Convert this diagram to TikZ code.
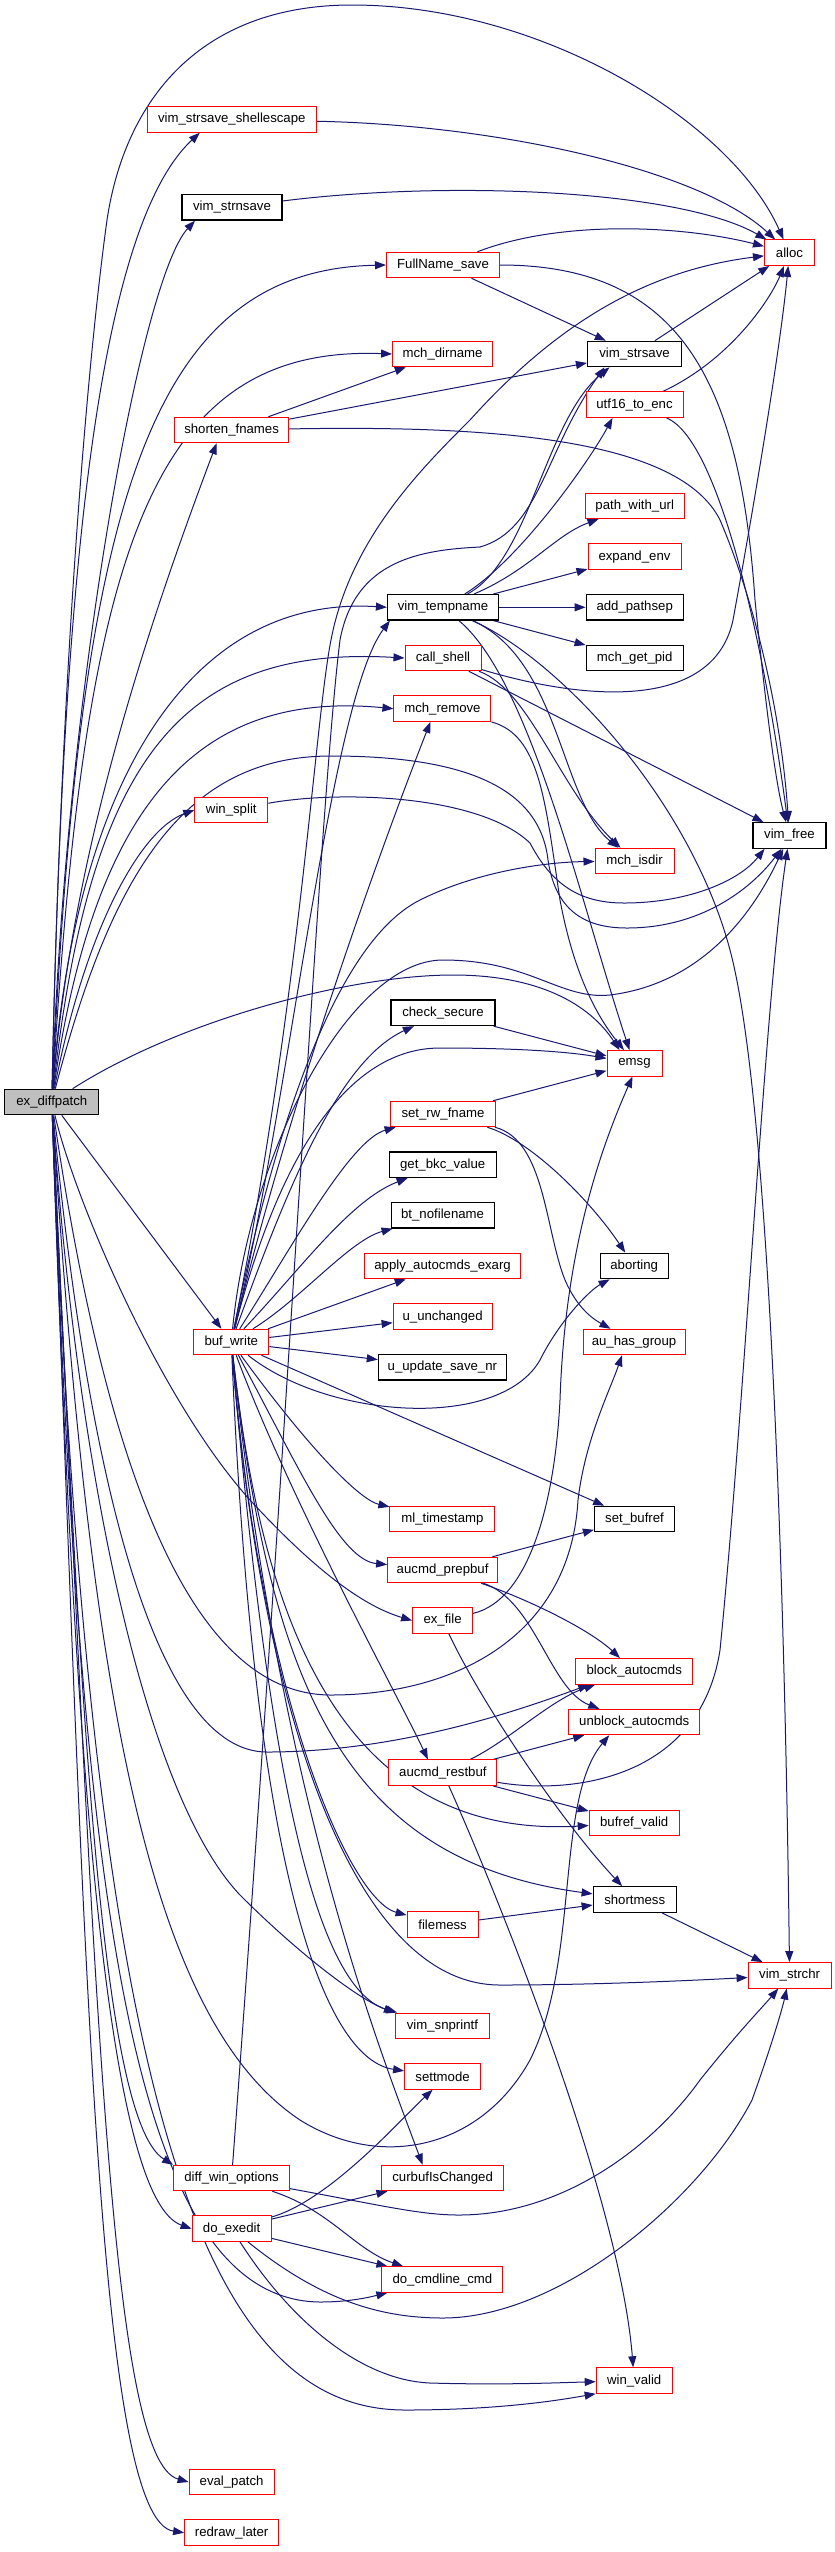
\documentclass[tikz,border=0pt]{standalone}
\usepackage{fontspec}
\setmainfont{Liberation Sans}
\usetikzlibrary{arrows.meta}
\definecolor{edgec}{HTML}{191970}
\definecolor{nodered}{HTML}{FF0000}
\definecolor{nodegray}{HTML}{BFBFBF}
\pgfdeclarelayer{bg}
\pgfsetlayers{bg,main}
\tikzset{
 fn/.style={rectangle, draw=nodered, fill=white, line width=1pt, minimum height=25.5pt, inner xsep=2pt, inner ysep=0pt, font=\fontsize{13.2}{15}\selectfont},
 fnb/.style={fn, draw=black, line width=1.2pt},
 fng/.style={fn, draw=black, line width=1.2pt, fill=nodegray},
 ed/.style={draw=edgec, line width=1pt, -{Triangle[length=11pt,width=8pt]}},
}
\begin{document}
\begin{tikzpicture}[x=1pt,y=-1pt]
\useasboundingbox (0,0) rectangle (835,2552);
% nodes
\node[fng, minimum width=94pt] (E) at (51.8,1102) {ex\_diffpatch};
\node[fn, minimum width=169pt] (vss) at (231.8,119.5) {vim\_strsave\_shellescape};
\node[fnb, minimum width=100pt] (vsn) at (232,207.3) {vim\_strnsave};
\node[fn, minimum width=113pt] (fns) at (443,265) {FullName\_save};
\node[fn, minimum width=100pt] (mdir) at (442.6,354) {mch\_dirname};
\node[fn, minimum width=114pt] (shf) at (231.6,430) {shorten\_fnames};
\node[fnb, minimum width=111pt] (vtn) at (443,607.3) {vim\_tempname};
\node[fn, minimum width=76pt] (csh) at (443,658) {call\_shell};
\node[fn, minimum width=97pt] (mrm) at (442.4,708.7) {mch\_remove};
\node[fn, minimum width=73pt] (wsp) at (231.3,810) {win\_split};
\node[fnb, minimum width=104pt] (chs) at (443,1012.8) {check\_secure};
\node[fn, minimum width=105pt] (srw) at (443,1114) {set\_rw\_fname};
\node[fnb, minimum width=107pt] (gbk) at (442.7,1164.7) {get\_bkc\_value};
\node[fnb, minimum width=103pt] (btn) at (442.6,1215.3) {bt\_nofilename};
\node[fn, minimum width=156pt] (aae) at (442.6,1266) {apply\_autocmds\_exarg};
\node[fn, minimum width=99pt] (uun) at (442.6,1316.7) {u\_unchanged};
\node[fn, minimum width=75pt] (bw) at (231.3,1342) {buf\_write};
\node[fnb, minimum width=128pt] (uus) at (442.4,1367.3) {u\_update\_save\_nr};
\node[fn, minimum width=105pt] (mlt) at (442.4,1519) {ml\_timestamp};
\node[fn, minimum width=110pt] (apb) at (442.6,1570) {aucmd\_prepbuf};
\node[fn, minimum width=60pt] (exf) at (442.6,1620.5) {ex\_file};
\node[fn, minimum width=108pt] (arb) at (442.9,1772.7) {aucmd\_restbuf};
\node[fn, minimum width=71pt] (flm) at (442.6,1924.7) {filemess};
\node[fn, minimum width=94pt] (vsp) at (442.4,2025.8) {vim\_snprintf};
\node[fn, minimum width=76pt] (stm) at (442.6,2076.5) {settmode};
\node[fn, minimum width=116pt] (dwo) at (231.6,2178) {diff\_win\_options};
\node[fn, minimum width=122pt] (cic) at (442.6,2178) {curbufIsChanged};
\node[fn, minimum width=79pt] (dex) at (231.6,2228.7) {do\_exedit};
\node[fn, minimum width=121pt] (dcc) at (442.4,2279.5) {do\_cmdline\_cmd};
\node[fn, minimum width=85pt] (evp) at (231.6,2482) {eval\_patch};
\node[fn, minimum width=94pt] (rdl) at (231.6,2532.7) {redraw\_later};
\node[fnb, minimum width=94pt] (vs) at (634.5,354) {vim\_strsave};
\node[fn, minimum width=97pt] (u16) at (634.5,404.7) {utf16\_to\_enc};
\node[fn, minimum width=99pt] (pwu) at (634.7,505.8) {path\_with\_url};
\node[fn, minimum width=93pt] (xen) at (634.5,556.7) {expand\_env};
\node[fnb, minimum width=97pt] (aps) at (634.7,607.3) {add\_pathsep};
\node[fnb, minimum width=97pt] (mgp) at (634.7,658) {mch\_get\_pid};
\node[fn, minimum width=79pt] (mid) at (634.5,861) {mch\_isdir};
\node[fn, minimum width=55pt] (ems) at (634.5,1063.3) {emsg};
\node[fnb, minimum width=68pt] (abt) at (634.2,1266) {aborting};
\node[fn, minimum width=102pt] (ahg) at (634,1342) {au\_has\_group};
\node[fnb, minimum width=80pt] (sbr) at (634.5,1519) {set\_bufref};
\node[fn, minimum width=117pt] (bac) at (634.2,1671.3) {block\_autocmds};
\node[fn, minimum width=131pt] (ubc) at (634.2,1722) {unblock\_autocmds};
\node[fn, minimum width=90pt] (brv) at (634.2,1823) {bufref\_valid};
\node[fnb, minimum width=83pt] (shm) at (634.7,1899.5) {shortmess};
\node[fn, minimum width=76pt] (wv) at (634.2,2380.5) {win\_valid};
\node[fn, minimum width=50pt] (alc) at (789.5,252.7) {alloc};
\node[fnb, minimum width=73pt] (vfr) at (789.5,835.5) {vim\_free};
\node[fn, minimum width=83pt] (vsc) at (789.6,1975.3) {vim\_strchr};

\begin{pgfonlayer}{bg}
\fill[white] (0,0) rectangle (835,2552);
% ex_diffpatch
\draw[ed] (E) .. controls (60,700) and (85,380) .. (107,220) .. controls (125,100) and (200,5) .. (352,5) .. controls (540,5) and (730,120) .. (alc);
\draw[ed] (E) .. controls (62,600) and (95,230) .. ([xshift=-32pt]vss.south);
\draw[ed] (E) .. controls (65,700) and (140,280) .. ([xshift=-37pt]vsn.south);
\draw[ed] (E) .. controls (80,500) and (150,270) .. (fns.west);
\draw[ed] (E) .. controls (85,550) and (150,345) .. (mdir.west);
\draw[ed] (E) .. controls (72,850) and (150,620) .. ([xshift=-15pt]shf.south);
\draw[ed] (E) .. controls (75,780) and (190,595) .. (vtn.west);
\draw[ed] (E) .. controls (90,760) and (180,645) .. (csh.west);
\draw[ed] (E) .. controls (95,800) and (200,690) .. (mrm.west);
\draw[ed] (E) .. controls (110,880) and (180,756) .. (331,756) .. controls (470,756) and (540,790) .. (548,860) .. controls (556,915) and (590,928) .. (627,928) .. controls (700,928) and (750,890) .. ([xshift=-8pt]vfr.south);
\draw[ed] (E) .. controls (85,930) and (140,830) .. (wsp.west);
\draw[ed] (E) .. controls (180,1020) and (350,975) .. (453,975) .. controls (540,975) and (590,1005) .. ([xshift=-15pt]ems.north);
\draw[ed] (E) -- (bw);
\draw[ed] (E) .. controls (75,1200) and (160,1400) .. (250,1500) .. controls (310,1565) and (360,1605) .. (exf.west);
\draw[ed] (E) .. controls (80,1500) and (150,1800) .. (240,1895) .. controls (300,1955) and (360,2000) .. (vsp.north west);
\draw[ed] (E) .. controls (110,1500) and (200,1695) .. (331,1695) .. controls (450,1695) and (570,1640) .. (578,1500) .. controls (585,1440) and (610,1390) .. ([xshift=-12pt]ahg.south);
\draw[ed] (E) .. controls (90,1500) and (160,1752) .. (267,1752) .. controls (400,1752) and (520,1710) .. ([xshift=-45pt]bac.south);
\draw[ed] (E) .. controls (90,1700) and (150,2020) .. (300,2120) .. controls (380,2170) and (480,2150) .. (530,2060) .. controls (580,1960) and (555,1800) .. ([xshift=-25pt]ubc.south);
\draw[ed] (E) .. controls (80,1700) and (100,2120) .. (dwo.north west);
\draw[ed] (E) .. controls (75,1800) and (110,2200) .. (dex.west);
\draw[ed] (E) .. controls (80,1900) and (130,2300) .. (320,2302) .. controls (350,2302) and (370,2297) .. ([xshift=6pt]dcc.south west);
\draw[ed] (E) .. controls (90,2100) and (200,2410) .. (405,2410) .. controls (500,2410) and (560,2400) .. (wv.south west);
\draw[ed] (E) .. controls (95,2000) and (110,2460) .. (evp.west);
\draw[ed] (E) .. controls (85,2000) and (100,2520) .. (rdl.west);
% upper part
\draw[ed] (vss) .. controls (500,125) and (700,170) .. (alc);
\draw[ed] (vsn) .. controls (450,180) and (680,190) .. (alc);
\draw[ed] (fns) .. controls (560,220) and (680,225) .. (alc);
\draw[ed] (fns) -- (vs);
\draw[ed] (fns) .. controls (680,265) and (740,380) .. (755,600) .. controls (765,700) and (775,780) .. (vfr);
\draw[ed] (shf) -- (mdir);
\draw[ed] (shf) -- (vs);
\draw[ed] (shf) .. controls (500,425) and (680,440) .. (720,520) .. controls (750,590) and (780,700) .. (vfr);
\draw[ed] (vs) -- (alc);
\draw[ed] (u16) .. controls (730,360) and (770,300) .. (alc);
\draw[ed] (u16) .. controls (720,440) and (765,650) .. (vfr);
\draw[ed] (vtn) .. controls (530,560) and (545,420) .. ([xshift=-25pt]vs.south);
\draw[ed] (vtn) .. controls (520,560) and (590,460) .. ([xshift=-22pt]u16.south);
\draw[ed] (vtn) .. controls (530,570) and (555,535) .. (pwu);
\draw[ed] (vtn) -- (xen);
\draw[ed] (vtn) -- (aps);
\draw[ed] (vtn) -- (mgp);
\draw[ed] (vtn) .. controls (560,660) and (560,800) .. (mid);
\draw[ed] (vtn) .. controls (530,680) and (580,900) .. ([xshift=-5pt]ems.north);
\draw[ed] (vtn) .. controls (560,660) and (690,800) .. (730,950) .. controls (770,1100) and (785,1600) .. (vsc);
\draw[ed] (csh) .. controls (600,705) and (715,705) .. (733,620) .. controls (755,500) and (780,350) .. (alc);
\draw[ed] (csh) -- (vfr);
\draw[ed] (csh) .. controls (530,690) and (560,790) .. (mid);
\draw[ed] (mrm) .. controls (540,735) and (545,800) .. (560,900) .. controls (575,980) and (600,1020) .. (ems);
\draw[ed] (wsp) .. controls (341,790) and (480,795) .. (530,843) .. controls (552,885) and (580,903) .. (624,903) .. controls (690,903) and (740,880) .. ([xshift=-25pt]vfr.south);
% middle part
\draw[ed] (chs) -- (ems);
\draw[ed] (srw) -- (ems);
\draw[ed] (srw) .. controls (530,1140) and (590,1200) .. (abt);
\draw[ed] (srw) .. controls (545,1140) and (545,1230) .. (565,1280) .. controls (578,1310) and (595,1320) .. (ahg);
\draw[ed] (exf) .. controls (530,1600) and (555,1500) .. (560,1400) .. controls (565,1250) and (600,1150) .. ([xshift=-2pt]ems.south);
\draw[ed] (exf) .. controls (480,1700) and (560,1820) .. (shm);
\draw[ed] (bw) .. controls (330,1420) and (500,1430) .. (540,1360) .. controls (560,1320) and (590,1290) .. (abt);
\draw[ed] (bw) .. controls (290,1180) and (340,1060) .. (chs);
\draw[ed] (bw) .. controls (290,1250) and (350,1140) .. (srw);
\draw[ed] (bw) .. controls (300,1270) and (350,1200) .. (gbk);
\draw[ed] (bw) .. controls (300,1300) and (350,1240) .. (btn);
\draw[ed] (bw) -- (aae);
\draw[ed] (bw) -- (uun);
\draw[ed] (bw) -- (uus);
\draw[ed] (bw) .. controls (280,1150) and (350,1048) .. (440,1048) .. controls (520,1048) and (570,1052) .. (ems);
\draw[ed] (bw) -- (sbr);
\draw[ed] (bw) .. controls (310,1450) and (360,1500) .. (mlt);
\draw[ed] (bw) .. controls (300,1470) and (340,1560) .. (apb);
\draw[ed] (bw) .. controls (290,1500) and (400,1700) .. ([xshift=-15pt]arb.north);
\draw[ed] (bw) .. controls (260,1600) and (330,1840) .. (brv);
\draw[ed] (bw) .. controls (270,1680) and (340,1860) .. (shm);
\draw[ed] (bw) .. controls (260,1700) and (350,1900) .. (flm);
\draw[ed] (bw) .. controls (260,1700) and (350,1985) .. (500,1985) .. controls (600,1985) and (700,1980) .. (vsc);
\draw[ed] (bw) .. controls (270,1800) and (320,1990) .. (vsp);
\draw[ed] (bw) .. controls (255,1900) and (330,2060) .. (stm);
\draw[ed] (bw) .. controls (280,1800) and (380,2050) .. ([xshift=-20pt]cic.north);
\draw[ed] (bw) .. controls (290,1100) and (330,700) .. ([xshift=3pt]vtn.south west);
\draw[ed] (bw) .. controls (290,1100) and (380,850) .. ([xshift=-12pt]mrm.south);
\draw[ed] (bw) .. controls (300,1000) and (315,720) .. (331,640) .. controls (350,540) and (420,470) .. (470,420) .. controls (560,320) and (650,270) .. (alc);
\draw[ed] (bw) .. controls (260,1200) and (320,950) .. (420,900) .. controls (480,870) and (550,862) .. (mid);
\draw[ed] (bw) .. controls (250,1150) and (350,960) .. (443,960) .. controls (530,960) and (560,1000) .. (610,995) .. controls (690,985) and (745,930) .. (vfr);
% lower part
\draw[ed] (apb) -- (sbr);
\draw[ed] (apb) .. controls (530,1600) and (590,1630) .. (bac);
\draw[ed] (apb) .. controls (535,1600) and (550,1690) .. (ubc);
\draw[ed] (arb) .. controls (510,1740) and (550,1700) .. (bac);
\draw[ed] (arb) -- (ubc);
\draw[ed] (arb) -- (brv);
\draw[ed] (arb) .. controls (500,1900) and (620,2200) .. (wv);
\draw[ed] (arb) .. controls (570,1795) and (700,1780) .. (720,1650) .. controls (745,1400) and (765,1000) .. (vfr);
\draw[ed] (flm) -- (shm);
\draw[ed] (shm) -- (vsc);
\draw[ed] (dwo) .. controls (380,2205) and (420,2215) .. (459,2215) .. controls (560,2215) and (650,2150) .. (700,2080) .. controls (740,2030) and (760,2010) .. (vsc);
\draw[ed] (dwo) .. controls (330,2210) and (355,2250) .. (dcc);
\draw[ed] (dwo) .. controls (290,1400) and (320,800) .. (340,640) .. controls (355,560) and (420,550) .. (480,547) .. controls (540,530) and (545,450) .. ([xshift=-30pt]vs.south);
\draw[ed] (dex) .. controls (330,2200) and (400,2120) .. ([xshift=-10pt]stm.south);
\draw[ed] (dex) -- (cic);
\draw[ed] (dex) -- (dcc);
\draw[ed] (dex) .. controls (290,2320) and (360,2380) .. (430,2383) .. controls (500,2385) and (550,2383) .. (wv);
\draw[ed] (dex) .. controls (320,2300) and (380,2318) .. (443,2318) .. controls (560,2318) and (700,2200) .. (752,2100) .. controls (770,2050) and (782,2010) .. (vsc);
\end{pgfonlayer}
\end{tikzpicture}
\end{document}
